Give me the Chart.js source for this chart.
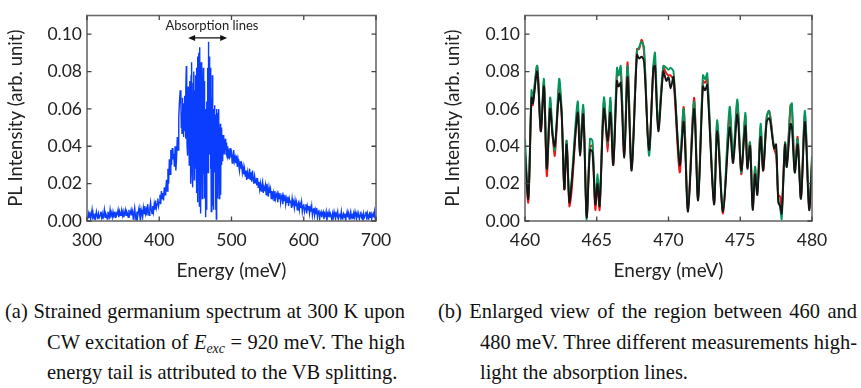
<!DOCTYPE html>
<html>
<head>
<meta charset="utf-8">
<script src="https://cdn.jsdelivr.net/npm/chart.js@4.4.1/dist/chart.umd.min.js"></script>
<style>
  html, body { margin: 0; padding: 0; background: #fff; }
  body { width: 861px; height: 388px; position: relative; overflow: hidden; }
  .panel { position: absolute; top: 0; height: 290px; }
  #wrapA { left: 0; width: 430px; }
  #wrapB { left: 430px; width: 431px; }
  .cap { position: absolute; font-family: "Liberation Serif", "Times New Roman", serif;
         font-size: 22px; color: #111; line-height: 30.5px;
         transform: scaleX(0.93); transform-origin: 0 0; }
  .cap .ln { display: block; text-align: justify; text-align-last: justify; white-space: nowrap; }
  .cap .ln.last { text-align-last: left; }
  .cap i { font-style: italic; }
  .cap sub { font-size: 15px; font-style: italic; vertical-align: -4px; line-height: 0; }
</style>
</head>
<body>
<div class="panel" id="wrapA"><canvas id="chartA" width="430" height="290"></canvas></div>
<div class="panel" id="wrapB"><canvas id="chartB" width="431" height="290"></canvas></div>

<!-- caption boxes are 1/0.93 wider than the space they fill, to allow for the horizontal squeeze -->
<div class="cap" style="left:5px; top:296px; width:430.1px;">
  <span class="ln">(a) Strained germanium spectrum at 300 K upon</span>
</div>
<div class="cap" style="left:47px; top:326.5px; width:384.9px;">
  <span class="ln">CW excitation of <i>E</i><sub>exc</sub> = 920 meV. The high</span>
  <span class="ln last">energy tail is attributed to the VB splitting.</span>
</div>
<div class="cap" style="left:438px; top:296px; width:450.5px;">
  <span class="ln">(b) Enlarged view of the region between 460 and</span>
</div>
<div class="cap" style="left:480px; top:326.5px; width:405.4px;">
  <span class="ln">480 meV. Three different measurements high-</span>
  <span class="ln last">light the absorption lines.</span>
</div>

<script>
// ---------- (a) survey spectrum, 300–700 meV ----------
// sampled on three grids: 1 meV below the line region, 0.5 meV across it, 1 meV above
const lowStart = 300, lowStep = 1;          // 300–429 meV
const lowIntensity = [
  .003,.001,.004,.002,.005,.001,.003,.006,.002,.003,
  .001,.004,.002,.005,.003,.001,.004,.002,.003,.005,
  .002,.004,.001,.003,.006,.002,.004,.003,.001,.005,
  .003,.002,.006,.003,.004,.002,.005,.003,.004,.002,
  .005,.003,.004,.006,.002,.005,.003,.004,.006,.003,
  .005,.002,.004,.006,.003,.005,.004,.002,.006,.003,
  .004,.006,.003,.005,.001,.004,.007,.003,.000,.005,
  .002,.005,.007,.003,.000,.006,.004,.002,.007,.004,
  .008,.004,.006,.003,.009,.005,.003,.007,.010,.006,
  .004,.008,.005,.009,.006,.011,.007,.009,.012,.008,
  .010,.014,.009,.016,.012,.015,.011,.018,.014,.017,
  .022,.016,.028,.020,.033,.025,.038,.030,.039,.033,
  .036,.029,.040,.027,.034,.045,.038,.055,.064,.070
];
const coreStart = 430, coreStep = 0.5;      // 430–495 meV
const coreIntensity = [
  .062,.050,.058,.047,.066,.052,.060,.045,.063,.055,
  .067,.048,.058,.044,.071,.083,.052,.040,.060,.035,
  .072,.045,.064,.030,.075,.038,.068,.020,.078,.042,
  .085,.025,.066,.018,.074,.036,.080,.022,.070,.040,
  .078,.028,.065,.015,.082,.034,.088,.010,.072,.030,
  .090,.008,.093,.040,.078,.004,.085,.025,.070,.012,
  .040,.070,.082,.025,.046,.075,.012,.060,.058,.002,
  .042,.006,.064,.030,.082,.026,.096,.085,.036,.088,
  .048,.082,.028,.060,.005,.066,.011,.078,.008,.052,
  .006,.060,.030,.062,.026,.057,.006,.052,.001,.060,
  .027,.058,.012,.052,.026,.060,.012,.050,.020,.052,
  .014,.048,.030,.050,.035,.046,.032,.044,.038,.046,
  .036,.043,.037,.044,.038,.042,.035,.041,.034,.040,
  .035
];
const tailStart = 496, tailStep = 1;        // 496–700 meV
const tailIntensity = [
  .037,.033,.039,.034,.036,.031,.035,.038,.032,.034,
  .031,.035,.029,.033,.030,.027,.032,.028,.030,.026,
  .029,.025,.028,.024,.027,.022,.026,.023,.025,.028,
  .022,.026,.021,.027,.023,.020,.024,.021,.022,.019,
  .023,.018,.021,.017,.020,.016,.019,.021,.015,.018,
  .016,.019,.014,.020,.017,.013,.018,.015,.017,.012,
  .016,.013,.015,.011,.016,.012,.014,.015,.010,.014,
  .012,.015,.010,.013,.014,.009,.013,.011,.014,.009,
  .012,.010,.013,.008,.012,.010,.011,.007,.012,.009,
  .010,.007,.011,.008,.010,.006,.009,.010,.006,.009,
  .007,.010,.005,.008,.009,.005,.007,.009,.004,.008,
  .006,.008,.004,.007,.005,.008,.003,.006,.007,.003,
  .006,.004,.007,.002,.005,.006,.001,.004,.005,.002,
  .004,.005,.001,.004,.003,.005,.000,.004,.003,.005,
  .002,.004,.003,.000,.004,.002,.005,.003,.001,.004,
  .003,.005,.001,.003,.004,.002,.005,.001,.003,.004,
  .002,.004,.000,.003,.005,.002,.004,.001,.003,.005,
  .002,.003,.001,.004,.002,.005,.003,.001,.004,.002,
  .004,.001,.003,.005,.002,.003,.000,.004,.002,.003,
  .005,.002,.004,.001,.003,.004,.002,.005,.001,.003,
  .004,.002,.005,.001,.003
];

// ---------- (b) 460–480 meV, three measurements ----------
const zoomEnergy = [
  460.00,460.23,460.45,460.55,460.85,461.10,461.32,461.52,461.75,461.92,
  462.08,462.38,462.55,462.74,462.90,463.09,463.25,463.67,463.83,464.06,
  464.30,464.53,464.70,464.90,465.06,465.20,465.50,465.76,465.95,466.15,
  466.41,466.52,466.67,466.92,467.15,467.43,467.80,467.95,468.13,468.30,
  468.64,468.95,469.06,469.29,469.64,469.85,470.00,470.15,470.35,470.78,
  471.06,471.36,471.78,472.06,472.40,472.55,472.70,473.17,473.40,473.80,
  474.26,474.50,474.80,475.07,475.35,475.50,475.68,475.87,476.03,476.19,
  476.42,476.60,476.84,477.00,477.10,477.35,477.50,477.65,477.78,477.89,
  478.12,478.24,478.50,478.60,478.80,479.00,479.23,479.51,479.80,480.00
];
const runBlack = [
  .036,.012,.066,.063,.080,.048,.072,.028,.060,.046,
  .040,.068,.058,.017,.041,.010,.020,.058,.035,.057,
  .002,.038,.037,.009,.020,.008,.060,.043,.058,.030,
  .075,.072,.074,.034,.077,.027,.089,.087,.088,.085,
  .038,.082,.083,.048,.080,.075,.077,.071,.077,.030,
  .053,.005,.060,.011,.072,.070,.073,.009,.048,.005,
  .050,.031,.057,.027,.051,.028,.040,.006,.025,.014,
  .045,.027,.053,.055,.053,.039,.041,.010,.008,.004,
  .041,.029,.052,.050,.026,.041,.012,.053,.006,.030
];
const runRed = [
  .038,.010,.064,.062,.083,.048,.074,.024,.063,.046,
  .035,.072,.058,.017,.043,.008,.016,.060,.040,.060,
  .003,.040,.040,.006,.020,.006,.064,.037,.064,.030,
  .079,.078,.082,.035,.085,.029,.092,.092,.097,.090,
  .038,.083,.085,.050,.082,.079,.078,.078,.075,.026,
  .061,.007,.066,.013,.075,.074,.076,.010,.052,.004,
  .057,.033,.063,.025,.056,.030,.042,.008,.028,.016,
  .050,.027,.055,.059,.056,.039,.035,.014,.013,.006,
  .042,.030,.062,.060,.028,.045,.013,.057,.007,.033
];
const runGreen = [
  .044,.013,.070,.066,.083,.050,.076,.028,.066,.048,
  .038,.076,.060,.018,.043,.012,.022,.064,.036,.062,
  .000,.044,.043,.010,.025,.009,.066,.041,.066,.033,
  .082,.078,.083,.036,.083,.028,.091,.093,.096,.092,
  .035,.084,.090,.052,.083,.082,.081,.082,.080,.032,
  .060,.006,.064,.012,.078,.076,.079,.011,.054,.006,
  .061,.035,.065,.026,.058,.029,.042,.007,.029,.015,
  .052,.029,.056,.059,.055,.040,.038,.012,.007,.001,
  .042,.029,.061,.063,.026,.044,.012,.059,.008,.035
];

// ---------- axes ----------
const intensityTicks = [0, 0.02, 0.04, 0.06, 0.08, 0.10];
const surveyTicks = [300, 400, 500, 600, 700];
const zoomTicks = [460, 465, 470, 475, 480];

function gridPoints(start, step, values) {
  return values.map((v, i) => ({ x: start + i * step, y: v }));
}
const surveyPoints = [
  ...gridPoints(lowStart, lowStep, lowIntensity),
  ...gridPoints(coreStart, coreStep, coreIntensity),
  ...gridPoints(tailStart, tailStep, tailIntensity)
];
const pairs = (ys) => ys.map((y, i) => ({ x: zoomEnergy[i], y }));

const FONT = 'Lato, "Open Sans", sans-serif';
const INK = '#222';

// box around the plot with inward ticks on all four sides
const framePlugin = {
  id: 'frame',
  afterDatasetsDraw(chart) {
    const { ctx, chartArea: a, scales: { x, y } } = chart;
    const len = 4.5;
    ctx.save();
    ctx.strokeStyle = '#6a6a6a';
    ctx.lineWidth = 1.6;
    ctx.strokeRect(a.left, a.top, a.right - a.left, a.bottom - a.top);
    ctx.strokeStyle = '#444';
    ctx.lineWidth = 1.3;
    ctx.beginPath();
    x.ticks.forEach(t => {
      const px = x.getPixelForValue(t.value);
      ctx.moveTo(px, a.bottom); ctx.lineTo(px, a.bottom - len);
      ctx.moveTo(px, a.top); ctx.lineTo(px, a.top + len);
    });
    y.ticks.forEach(t => {
      const py = y.getPixelForValue(t.value);
      ctx.moveTo(a.left, py); ctx.lineTo(a.left + len, py);
      ctx.moveTo(a.right, py); ctx.lineTo(a.right - len, py);
    });
    ctx.stroke();
    ctx.restore();
  }
};

// "Absorption lines" label with a double-headed arrow over the line region
const absorptionMark = { from: 440, to: 494, arrowAt: 0.098, label: 'Absorption lines', labelAt: [473, 0.1046] };
const markPlugin = {
  id: 'absorptionMark',
  afterDraw(chart) {
    const { ctx, scales: { x, y } } = chart;
    const m = absorptionMark;
    const x1 = x.getPixelForValue(m.from), x2 = x.getPixelForValue(m.to);
    const yy = y.getPixelForValue(m.arrowAt);
    ctx.save();
    ctx.strokeStyle = '#111'; ctx.fillStyle = '#111'; ctx.lineWidth = 1.3;
    ctx.beginPath(); ctx.moveTo(x1 + 3, yy); ctx.lineTo(x2 - 3, yy); ctx.stroke();
    const head = (xt, dir) => {
      ctx.beginPath();
      ctx.moveTo(xt, yy);
      ctx.lineTo(xt - dir * 7, yy - 3);
      ctx.lineTo(xt - dir * 7, yy + 3);
      ctx.closePath(); ctx.fill();
    };
    head(x1, -1); head(x2, 1);
    ctx.font = '13px ' + FONT;
    ctx.fillStyle = '#222';
    ctx.textAlign = 'center'; ctx.textBaseline = 'middle';
    ctx.fillText(m.label, x.getPixelForValue(m.labelAt[0]), y.getPixelForValue(m.labelAt[1]));
    ctx.restore();
  }
};

function makeOptions(xMin, xMax, xTicks, yWidth, rightPad, yTitlePad) {
  return {
    responsive: false,
    animation: false,
    events: [],
    layout: { padding: { left: 0, right: rightPad, top: 5, bottom: 0 } },
    plugins: { legend: { display: false }, tooltip: { enabled: false } },
    elements: { point: { radius: 0 } },
    scales: {
      x: {
        type: 'linear', min: xMin, max: xMax,
        grid: { display: false, drawTicks: false }, border: { display: false },
        afterBuildTicks: s => { s.ticks = xTicks.map(v => ({ value: v })); },
        afterFit: s => { s.height = 69; },
        ticks: { font: { family: FONT, size: 17.5 }, color: INK, padding: 9, maxRotation: 0, autoSkip: false,
                 callback: v => String(v) },
        title: { display: true, text: 'Energy (meV)', font: { family: FONT, size: 19 }, color: INK,
                 padding: { top: 0, bottom: 8 } }
      },
      y: {
        type: 'linear', min: 0, max: 0.11,
        grid: { display: false, drawTicks: false }, border: { display: false },
        afterBuildTicks: s => { s.ticks = intensityTicks.map(v => ({ value: v })); },
        afterFit: s => { s.width = yWidth; },
        ticks: { font: { family: FONT, size: 17.5 }, color: INK, padding: 5, autoSkip: false,
                 callback: v => v.toFixed(2) },
        title: { display: true, text: 'PL Intensity (arb. unit)', font: { family: FONT, size: 18.5 }, color: INK,
                 padding: { top: yTitlePad, bottom: 0 } }
      }
    }
  };
}

new Chart(document.getElementById('chartA'), {
  type: 'line',
  data: { datasets: [{
    data: surveyPoints, borderColor: '#0b3dff', borderWidth: 1.4, tension: 0, pointRadius: 0
  }] },
  options: makeOptions(300, 700, surveyTicks, 87, 54, 5),
  plugins: [framePlugin, markPlugin]
});

new Chart(document.getElementById('chartB'), {
  type: 'line',
  data: { datasets: [
    { data: pairs(runBlack), borderColor: '#141414', borderWidth: 1.9, tension: 0.3, order: 0 },
    { data: pairs(runGreen), borderColor: '#00975a', borderWidth: 1.9, tension: 0.3, order: 1 },
    { data: pairs(runRed),   borderColor: '#f41414', borderWidth: 1.9, tension: 0.3, order: 2 }
  ] },
  options: makeOptions(460, 480, zoomTicks, 95, 49, 11.5),
  plugins: [framePlugin]
});
</script>
</body>
</html>
